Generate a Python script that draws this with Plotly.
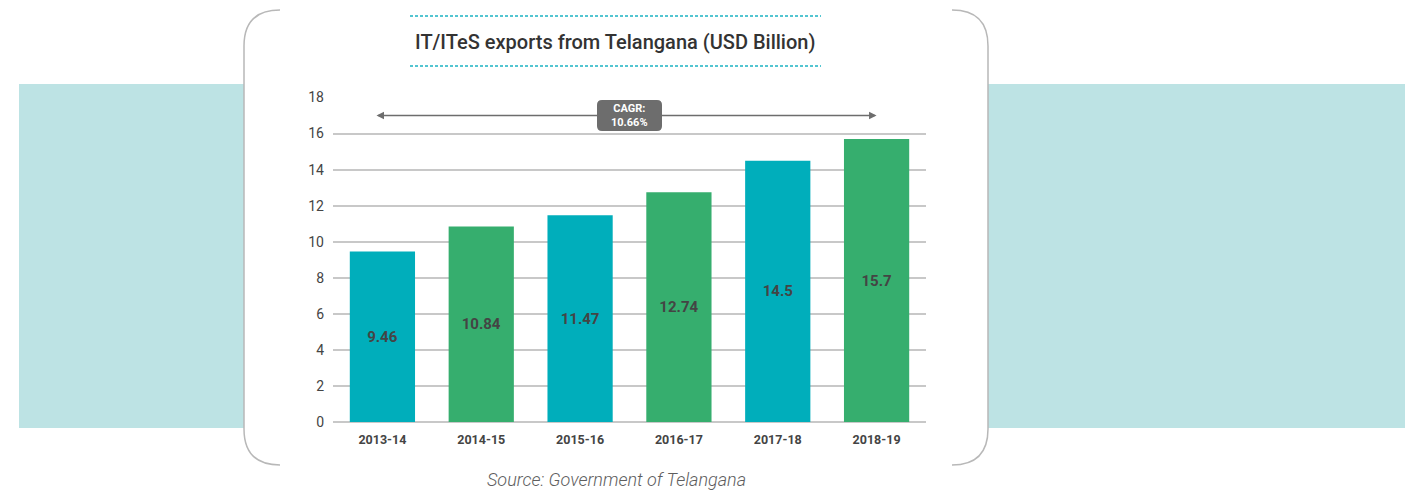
import plotly.graph_objects as go

years = ["2013-14", "2014-15", "2015-16", "2016-17", "2017-18", "2018-19"]
exports = [9.46, 10.84, 11.47, 12.74, 14.5, 15.7]
bar_colors = ["#00AEBB", "#36AE6E", "#00AEBB", "#36AE6E", "#00AEBB", "#36AE6E"]
cagr_text = "CAGR:<br>10.66%"
y_ticks = [0, 2, 4, 6, 8, 10, 12, 14, 16, 18]

W, H = 1405, 490
L, R, T, B = 333, 926, 97, 422


def px(x):
    return (x - L) / (R - L)


def py(y):
    return (B - y) / (B - T)


fig = go.Figure()
fig.add_trace(go.Bar(
    x=years, y=exports,
    marker=dict(color=bar_colors, line=dict(width=0)),
    text=[str(v) for v in exports],
    textposition="inside", insidetextanchor="middle",
    textfont=dict(family="Roboto", size=15, color="#444444", weight="bold"),
    hoverinfo="skip",
))

shapes = []
# teal band behind the panel
shapes.append(dict(type="rect", xref="paper", yref="paper", layer="below",
                   x0=px(19), x1=px(W + 10), y0=py(428), y1=py(84),
                   fillcolor="#bde3e4", line=dict(width=0)))
# white panel
shapes.append(dict(type="rect", xref="paper", yref="paper", layer="below",
                   x0=px(244), x1=px(988), y0=py(-5), y1=py(H + 5),
                   fillcolor="white", line=dict(width=0)))
# bracket borders
left_path = "M {},{} Q {},{} {},{} L {},{} Q {},{} {},{}".format(
    px(280), py(10), px(244), py(10), px(244), py(46),
    px(244), py(429), px(244), py(465), px(280), py(465))
right_path = "M {},{} Q {},{} {},{} L {},{} Q {},{} {},{}".format(
    px(952), py(10), px(988), py(10), px(988), py(46),
    px(988), py(429), px(988), py(465), px(952), py(465))
for p in (left_path, right_path):
    shapes.append(dict(type="path", xref="paper", yref="paper", path=p,
                       line=dict(color="#b8b8b8", width=1.5)))
# dashed lines around title
for yy in (16, 66):
    shapes.append(dict(type="line", xref="paper", yref="paper",
                       x0=px(410), x1=px(821), y0=py(yy), y1=py(yy),
                       line=dict(color="#1bb3c2", width=1.5, dash="3px,2px")))
# rounded CAGR box
bx0, bx1, by0, by1, r = 597, 662, 100, 131, 5
box = ("M {},{} L {},{} Q {},{} {},{} L {},{} Q {},{} {},{} "
       "L {},{} Q {},{} {},{} L {},{} Q {},{} {},{} Z").format(
    px(bx0 + r), py(by0), px(bx1 - r), py(by0), px(bx1), py(by0), px(bx1), py(by0 + r),
    px(bx1), py(by1 - r), px(bx1), py(by1), px(bx1 - r), py(by1),
    px(bx0 + r), py(by1), px(bx0), py(by1), px(bx0), py(by1 - r),
    px(bx0), py(by0 + r), px(bx0), py(by0), px(bx0 + r), py(by0))
shapes.append(dict(type="path", xref="paper", yref="paper", path=box,
                   fillcolor="#6d6d6d", line=dict(width=0), layer="above"))

annotations = [
    dict(text="IT/ITeS exports from Telangana (USD Billion)", xref="paper", yref="paper",
         x=px(615), y=py(42), showarrow=False, xanchor="center", yanchor="middle",
         font=dict(family="Roboto", size=20, color="#333333", weight=500)),
    dict(text="Source: Government of Telangana", xref="paper", yref="paper",
         x=px(616), y=py(479), showarrow=False, xanchor="center", yanchor="middle",
         font=dict(family="Roboto", size=18, color="#5e5e5e", style="italic", weight=300)),
    # CAGR arrow, both heads, split around the box
    dict(x=-0.06, y=17, ax=2.2, ay=17, xref="x", yref="y", axref="x", ayref="y",
         text="", showarrow=True, arrowhead=2, arrowsize=1, arrowwidth=1.5,
         arrowcolor="#6d6d6d"),
    dict(x=5, y=17, ax=2.8, ay=17, xref="x", yref="y", axref="x", ayref="y",
         text="", showarrow=True, arrowhead=2, arrowsize=1, arrowwidth=1.5,
         arrowcolor="#6d6d6d"),
    dict(x=2.5, y=17, xref="x", yref="y", text=cagr_text, showarrow=False,
         xanchor="center", yanchor="middle",
         font=dict(family="Roboto", size=11, color="white", weight="bold")),
]

fig.update_layout(
    width=W, height=H,
    margin=dict(l=L, r=W - R, t=T, b=H - B),
    paper_bgcolor="white", plot_bgcolor="rgba(0,0,0,0)",
    showlegend=False, bargap=0.34,
    shapes=shapes, annotations=annotations,
    font=dict(family="Roboto"),
)
fig.update_xaxes(showgrid=False, showline=False, ticks="", ticklabelstandoff=8,
                 tickfont=dict(family="Roboto", size=12.5, color="#444444", weight="bold"))
fig.update_yaxes(range=[0, 18.03], tickvals=y_ticks, showgrid=True, gridcolor="#c8c8c8",
                 gridwidth=1.5, zeroline=True, zerolinecolor="#c8c8c8", zerolinewidth=2,
                 ticks="", ticklabelstandoff=8,
                 tickfont=dict(family="Roboto", size=14, color="#444444"))

# drop the default page margin so the figure sits at the window origin
fig.write_html("out.html", config={"displayModeBar": False},
               post_script="document.body.style.margin='0';document.body.style.overflow='hidden';")
